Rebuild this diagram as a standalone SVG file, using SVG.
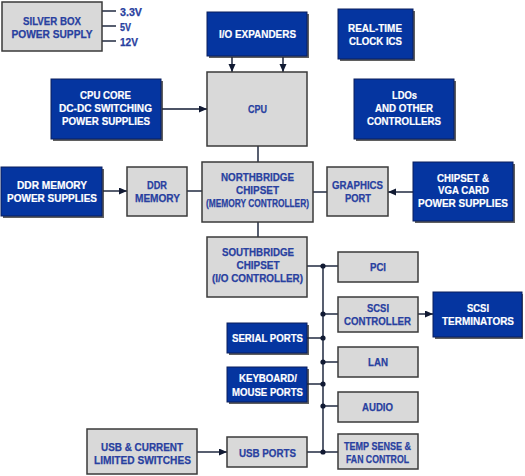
<svg xmlns="http://www.w3.org/2000/svg" width="525" height="476" viewBox="0 0 525 476">
<defs>
<marker id="ah" markerUnits="userSpaceOnUse" markerWidth="9" markerHeight="8" refX="8" refY="3.5" orient="auto">
<path d="M0,0 L8,3.5 L0,7 z" fill="#111a33"/>
</marker>
<style>
.g{fill:#d9d9d9;stroke:#3a3a3a;stroke-width:1.5}
.b{fill:#0535a0;stroke:#0a1f5c;stroke-width:1}
.sh{fill:#2a2a2a;opacity:0.75}
text{font-family:"Liberation Sans",Arial,sans-serif;font-weight:bold;font-size:11.5px;text-anchor:middle}
.gt{fill:#2840a0;stroke:#2840a0;stroke-width:0.25}
.wt{fill:#ffffff;stroke:#ffffff;stroke-width:0.2}
.c{stroke:#111a33;stroke-width:1.4;fill:none}
.d{fill:#111a33}
</style>
</defs>
<rect width="525" height="476" fill="#ffffff"/>

<g id="connectors">
<line class="c" x1="102" y1="11" x2="116" y2="11"/>
<line class="c" x1="102" y1="26" x2="116" y2="26"/>
<line class="c" x1="102" y1="41" x2="116" y2="41"/>
<line class="c" x1="232" y1="57" x2="232" y2="72" marker-end="url(#ah)"/>
<line class="c" x1="283" y1="57" x2="283" y2="72" marker-end="url(#ah)"/>
<line class="c" x1="162" y1="109" x2="207" y2="109" marker-end="url(#ah)"/>
<line class="c" x1="258" y1="146" x2="258" y2="162"/>
<line class="c" x1="103" y1="191" x2="127" y2="191" marker-end="url(#ah)"/>
<line class="c" x1="187" y1="191" x2="202" y2="191"/>
<line class="c" x1="313" y1="192" x2="327" y2="192"/>
<line class="c" x1="413" y1="192" x2="388" y2="192" marker-end="url(#ah)"/>
<line class="c" x1="258" y1="222" x2="258" y2="237"/>
<line class="c" x1="307" y1="266" x2="338" y2="266"/>
<line class="c" x1="323" y1="266" x2="323" y2="452"/>
<line class="c" x1="323" y1="314" x2="338" y2="314"/>
<line class="c" x1="418" y1="314" x2="433" y2="314" marker-end="url(#ah)"/>
<line class="c" x1="307" y1="338" x2="323" y2="338"/>
<line class="c" x1="323" y1="362" x2="338" y2="362"/>
<line class="c" x1="307" y1="384" x2="323" y2="384"/>
<line class="c" x1="323" y1="406" x2="338" y2="406"/>
<line class="c" x1="307" y1="452" x2="338" y2="452"/>
<line class="c" x1="197" y1="452" x2="227" y2="452" marker-end="url(#ah)"/>
<circle class="d" cx="323" cy="266" r="2.6"/>
<circle class="d" cx="323" cy="314" r="2.6"/>
<circle class="d" cx="323" cy="338" r="2.6"/>
<circle class="d" cx="323" cy="362" r="2.6"/>
<circle class="d" cx="323" cy="384" r="2.6"/>
<circle class="d" cx="323" cy="406" r="2.6"/>
<circle class="d" cx="323" cy="452" r="2.6"/>
</g>

<g id="silverbox">
<rect class="g" x="2" y="2" width="100" height="49"/>
<text class="gt" x="52" y="25" textLength="58" lengthAdjust="spacingAndGlyphs">SILVER BOX</text>
<text class="gt" x="52" y="38" textLength="81" lengthAdjust="spacingAndGlyphs">POWER SUPPLY</text>
<text class="gt" x="131" y="16" textLength="22" lengthAdjust="spacingAndGlyphs">3.3V</text>
<text class="gt" x="125.5" y="31" textLength="11" lengthAdjust="spacingAndGlyphs">5V</text>
<text class="gt" x="129" y="46" textLength="18" lengthAdjust="spacingAndGlyphs">12V</text>
</g>

<g id="ioexpanders">
<rect class="sh" x="209" y="14" width="100" height="44"/>
<rect class="b" x="207" y="12" width="100" height="44"/>
<text class="wt" x="257.5" y="38" textLength="77" lengthAdjust="spacingAndGlyphs">I/O EXPANDERS</text>
</g>

<g id="rtc">
<rect class="sh" x="340" y="11" width="75" height="50"/>
<rect class="b" x="338" y="9" width="75" height="50"/>
<text class="wt" x="375" y="32" textLength="54" lengthAdjust="spacingAndGlyphs">REAL-TIME</text>
<text class="wt" x="375.5" y="45" textLength="53" lengthAdjust="spacingAndGlyphs">CLOCK ICS</text>
</g>

<g id="cpu">
<rect class="g" x="207" y="72" width="100" height="74"/>
<text class="gt" x="257.5" y="113" textLength="19" lengthAdjust="spacingAndGlyphs">CPU</text>
</g>

<g id="ldos">
<rect class="sh" x="356" y="81" width="100" height="60"/>
<rect class="b" x="354" y="79" width="100" height="60"/>
<text class="wt" x="404.5" y="99" textLength="25" lengthAdjust="spacingAndGlyphs">LDOs</text>
<text class="wt" x="404" y="112" textLength="58" lengthAdjust="spacingAndGlyphs">AND OTHER</text>
<text class="wt" x="404" y="125" textLength="74" lengthAdjust="spacingAndGlyphs">CONTROLLERS</text>
</g>

<g id="cpucore">
<rect class="sh" x="53" y="81" width="110" height="60"/>
<rect class="b" x="51" y="79" width="110" height="60"/>
<text class="wt" x="105.5" y="99" textLength="51" lengthAdjust="spacingAndGlyphs">CPU CORE</text>
<text class="wt" x="105.5" y="112" textLength="93" lengthAdjust="spacingAndGlyphs">DC-DC SWITCHING</text>
<text class="wt" x="106" y="125" textLength="88" lengthAdjust="spacingAndGlyphs">POWER SUPPLIES</text>
</g>

<g id="ddrpower">
<rect class="sh" x="3" y="169" width="101" height="49"/>
<rect class="b" x="1" y="167" width="101" height="49"/>
<text class="wt" x="52" y="189" textLength="70" lengthAdjust="spacingAndGlyphs">DDR MEMORY</text>
<text class="wt" x="52" y="202" textLength="90" lengthAdjust="spacingAndGlyphs">POWER SUPPLIES</text>
</g>

<g id="ddrmemory">
<rect class="g" x="127" y="167" width="60" height="49"/>
<text class="gt" x="157" y="189" textLength="20" lengthAdjust="spacingAndGlyphs">DDR</text>
<text class="gt" x="157.5" y="202" textLength="45" lengthAdjust="spacingAndGlyphs">MEMORY</text>
</g>

<g id="northbridge">
<rect class="g" x="202" y="162" width="111" height="60"/>
<text class="gt" x="257.5" y="181" textLength="73" lengthAdjust="spacingAndGlyphs">NORTHBRIDGE</text>
<text class="gt" x="257.5" y="194" textLength="43" lengthAdjust="spacingAndGlyphs">CHIPSET</text>
<text class="gt" x="257.5" y="207" textLength="103" lengthAdjust="spacingAndGlyphs">(MEMORY CONTROLLER)</text>
</g>

<g id="graphics">
<rect class="g" x="327" y="167" width="61" height="49"/>
<text class="gt" x="357.5" y="189" textLength="51" lengthAdjust="spacingAndGlyphs">GRAPHICS</text>
<text class="gt" x="358" y="202" textLength="26" lengthAdjust="spacingAndGlyphs">PORT</text>
</g>

<g id="chipsetvga">
<rect class="sh" x="415" y="164" width="100" height="59"/>
<rect class="b" x="413" y="162" width="100" height="59"/>
<text class="wt" x="463" y="182" textLength="52" lengthAdjust="spacingAndGlyphs">CHIPSET &amp;</text>
<text class="wt" x="463.5" y="194" textLength="51" lengthAdjust="spacingAndGlyphs">VGA CARD</text>
<text class="wt" x="463" y="207" textLength="90" lengthAdjust="spacingAndGlyphs">POWER SUPPLIES</text>
</g>

<g id="southbridge">
<rect class="g" x="207" y="237" width="100" height="60"/>
<text class="gt" x="258" y="256" textLength="72" lengthAdjust="spacingAndGlyphs">SOUTHBRIDGE</text>
<text class="gt" x="258" y="269" textLength="43" lengthAdjust="spacingAndGlyphs">CHIPSET</text>
<text class="gt" x="257.5" y="282" textLength="91" lengthAdjust="spacingAndGlyphs">(I/O CONTROLLER)</text>
</g>

<g id="pci">
<rect class="g" x="338" y="252" width="80" height="30"/>
<text class="gt" x="378" y="271" textLength="16" lengthAdjust="spacingAndGlyphs">PCI</text>
</g>

<g id="scsicontroller">
<rect class="g" x="338" y="297" width="80" height="35"/>
<text class="gt" x="378" y="312" textLength="22" lengthAdjust="spacingAndGlyphs">SCSI</text>
<text class="gt" x="377.5" y="325" textLength="67" lengthAdjust="spacingAndGlyphs">CONTROLLER</text>
</g>

<g id="scsiterminators">
<rect class="sh" x="435" y="294" width="88" height="45"/>
<rect class="b" x="433" y="292" width="89" height="45"/>
<text class="wt" x="478" y="312" textLength="22" lengthAdjust="spacingAndGlyphs">SCSI</text>
<text class="wt" x="478" y="325" textLength="72" lengthAdjust="spacingAndGlyphs">TERMINATORS</text>
</g>

<g id="serialports">
<rect class="sh" x="229" y="325" width="80" height="30"/>
<rect class="b" x="227" y="323" width="80" height="30"/>
<text class="wt" x="267.5" y="342" textLength="71" lengthAdjust="spacingAndGlyphs">SERIAL PORTS</text>
</g>

<g id="lan">
<rect class="g" x="338" y="347" width="80" height="30"/>
<text class="gt" x="378" y="366" textLength="20" lengthAdjust="spacingAndGlyphs">LAN</text>
</g>

<g id="keyboard">
<rect class="sh" x="229" y="369" width="80" height="35"/>
<rect class="b" x="227" y="367" width="80" height="35"/>
<text class="wt" x="268" y="382" textLength="58" lengthAdjust="spacingAndGlyphs">KEYBOARD/</text>
<text class="wt" x="267.5" y="396" textLength="71" lengthAdjust="spacingAndGlyphs">MOUSE PORTS</text>
</g>

<g id="audio">
<rect class="g" x="338" y="392" width="80" height="30"/>
<text class="gt" x="377.5" y="411" textLength="31" lengthAdjust="spacingAndGlyphs">AUDIO</text>
</g>

<g id="usbswitches">
<rect class="g" x="87" y="429" width="110" height="45"/>
<text class="gt" x="142" y="451" textLength="82" lengthAdjust="spacingAndGlyphs">USB &amp; CURRENT</text>
<text class="gt" x="142.5" y="464" textLength="97" lengthAdjust="spacingAndGlyphs">LIMITED SWITCHES</text>
</g>

<g id="usbports">
<rect class="g" x="227" y="437" width="80" height="30"/>
<text class="gt" x="267.5" y="457" textLength="57" lengthAdjust="spacingAndGlyphs">USB PORTS</text>
</g>

<g id="tempsense">
<rect class="g" x="338" y="434" width="80" height="35"/>
<text class="gt" x="377.5" y="450" textLength="67" lengthAdjust="spacingAndGlyphs">TEMP SENSE &amp;</text>
<text class="gt" x="377.5" y="463" textLength="63" lengthAdjust="spacingAndGlyphs">FAN CONTROL</text>
</g>
</svg>
